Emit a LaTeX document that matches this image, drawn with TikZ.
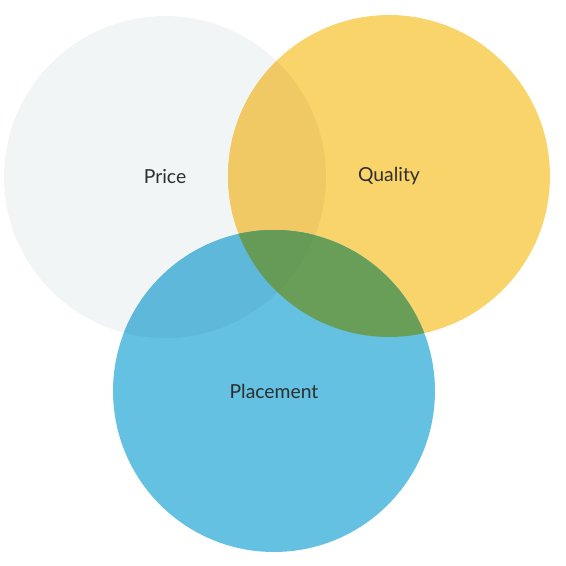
\documentclass[tikz,border=0pt]{standalone}
\usepackage{fontspec}
\setmainfont{Lato}
\usepackage{xcolor}
\usepackage{tikz}
\definecolor{priceFill}{HTML}{F1F5F6}
\definecolor{qualityFill}{HTML}{F9D46A}
\definecolor{placeFill}{HTML}{64C1E2}
\definecolor{pqFill}{HTML}{F0C964}
\definecolor{ppFill}{HTML}{5DB8DA}
\definecolor{qpFill}{HTML}{689E58}
\definecolor{allFill}{HTML}{659B56}
\definecolor{labelGray}{HTML}{2E2E2E}

\begin{document}
\begin{tikzpicture}[x=0.02cm,y=-0.02cm,
        venn/.style={circle,inner sep=0pt,minimum size=6.44cm,text=labelGray,
                     font=\fontsize{11}{13}\selectfont}]
        \useasboundingbox (0,0) rectangle (566,566);
        \node[venn,fill=priceFill] (price) at (165,177) {Price};
        \node[venn,fill=qualityFill] (quality) at (389,176) {Quality};
        % price and quality overlap
        \begin{scope}
          \clip (price.center) circle[radius=3.22cm];
          \fill[pqFill] (quality.center) circle[radius=3.22cm];
        \end{scope}
        \node[venn,fill=placeFill] (place) at (274,391) {Placement};
        % overlaps with placement
        \begin{scope}
          \clip (place.center) circle[radius=3.22cm];
          \fill[ppFill] (price.center) circle[radius=3.22cm];
          \fill[qpFill] (quality.center) circle[radius=3.22cm];
          \clip (price.center) circle[radius=3.22cm];
          \fill[allFill] (quality.center) circle[radius=3.22cm];
        \end{scope}
      \end{tikzpicture}
\end{document}
